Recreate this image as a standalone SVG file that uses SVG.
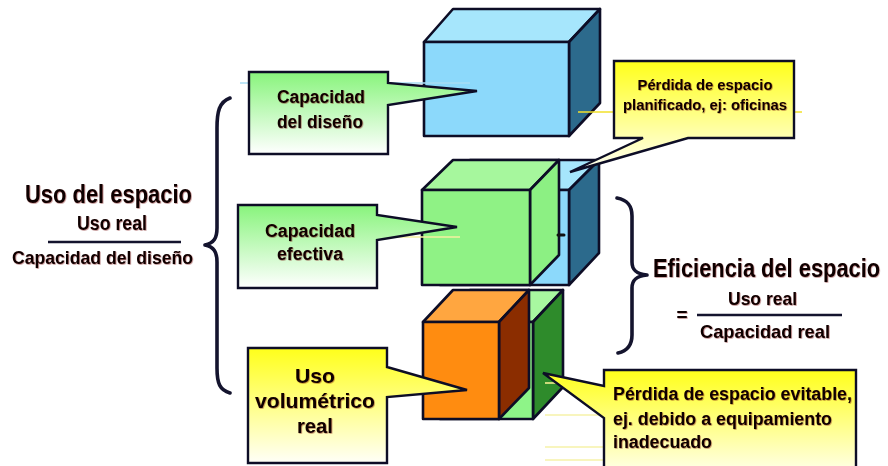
<svg xmlns="http://www.w3.org/2000/svg" width="888" height="466" viewBox="0 0 888 466">
  <defs>
    <linearGradient id="gGreen" x1="0" y1="0" x2="0" y2="1">
      <stop offset="0" stop-color="#88F47C"/>
      <stop offset="1" stop-color="#FFFFFF"/>
    </linearGradient>
    <linearGradient id="gYellow" x1="0" y1="0" x2="0" y2="1">
      <stop offset="0" stop-color="#FFFF1A"/>
      <stop offset="1" stop-color="#FFFFF8"/>
    </linearGradient>
    <filter id="shadow" x="-5%" y="-20%" width="110%" height="140%">
      <feDropShadow dx="0.7" dy="0.7" stdDeviation="0.35" flood-color="#6a0000" flood-opacity="0.5"/>
    </filter>
    <style>
      .face { stroke: #0d0d26; stroke-width: 2.6; stroke-linejoin: round; }
      .callout { stroke: #0d0d26; stroke-width: 2.4; stroke-linejoin: miter; }
      .brace { fill: none; stroke: #14142e; stroke-width: 3.6; stroke-linecap: round; stroke-linejoin: round; }
      .guide { stroke-width: 1.6; fill: none; }
      text { font-family: "Liberation Sans", Arial, sans-serif; font-weight: bold; fill: #0c0202; filter: url(#shadow); }
      .c { text-anchor: middle; }
    </style>
  </defs>

  <!-- upper box: design capacity -->
  <g id="cube-design">
    <polygon class="face" points="424,42 453,9 600,9 569,42" fill="#A6E6FC"/>
    <polygon class="face" points="569,42 600,9 600,103 569,136" fill="#2C6A8C"/>
    <rect class="face" x="424" y="42" width="145" height="94" fill="#8CD9FB"/>
  </g>

  <!-- middle: blue box behind, green effective-capacity cube in front -->
  <g id="cube-effective">
    <polygon class="face" points="440,190 470,160 599,160 569,190" fill="#A6E6FC"/>
    <polygon class="face" points="569,190 599,160 599,253 569,285" fill="#2C6A8C"/>
    <rect class="face" x="440" y="190" width="129" height="95" fill="#8CD9FB"/>
    <polygon class="face" points="422,190 453,160 559,160 530,190" fill="#A6F79D"/>
    <polygon class="face" points="530,190 559,160 559,255 530,285" fill="#8CF083"/>
    <rect class="face" x="422" y="190" width="108" height="95" fill="#8FF285"/>
    <line x1="558" y1="235" x2="564" y2="235" stroke="#111" stroke-width="3" stroke-linecap="round"/>
  </g>

  <!-- lower: green box behind, orange actual-use cube in front -->
  <g id="cube-actual">
    <polygon class="face" points="440,322 470,290 563,290 533,322" fill="#A8F8A0"/>
    <polygon class="face" points="533,322 563,290 563,387 533,419" fill="#2E8B2B"/>
    <rect class="face" x="440" y="322" width="93" height="97" fill="#8EF488"/>
    <polygon class="face" points="423,322 453,290 529,290 499,322" fill="#FFA640"/>
    <polygon class="face" points="499,322 529,290 529,388 499,419" fill="#8B2D00"/>
    <rect class="face" x="423" y="322" width="76" height="97" fill="#FF8C10"/>
  </g>

  <!-- thin leftover guide lines -->
  <g id="connectors">
    <line class="guide" x1="240" y1="83" x2="470" y2="83" stroke="#A8DDF5"/>
    <line class="guide" x1="578" y1="112" x2="802" y2="112" stroke="#F2E02A"/>
    <line class="guide" x1="377" y1="237" x2="460" y2="237" stroke="#F4F0A0"/>
    <line class="guide" x1="545" y1="383" x2="563" y2="383" stroke="#F4EE90"/>
    <line class="guide" x1="545" y1="415" x2="604" y2="415" stroke="#F6F2A8"/>
    <line class="guide" x1="545" y1="447" x2="604" y2="447" stroke="#F6F2A8"/>
    <line class="guide" x1="545" y1="460" x2="604" y2="460" stroke="#F6F2A8"/>
  </g>

  <!-- braces -->
  <g id="brace-left">
    <path class="brace" d="M230,98 C219,102 217,112 217,128 L217,228 C217,238 214,243 205,245 C214,247 217,252 217,262 L217,368 C217,384 220,390 230,393"/>
  </g>
  <g id="brace-right">
    <path class="brace" d="M617,198 C627,200 632,205 632,216 L632,262 C632,270 636,274 647,275 C636,276 632,280 632,288 L632,335 C632,346 627,351 618,353"/>
  </g>

  <!-- callouts -->
  <g id="callout-design">
    <path class="callout" d="M249,72 H388 V83 L477,91 L388,105 V154 H249 Z" fill="url(#gGreen)"/>
    <text class="c" x="321" y="103" font-size="18" textLength="88" lengthAdjust="spacingAndGlyphs">Capacidad</text>
    <text class="c" x="320" y="128" font-size="18" textLength="86" lengthAdjust="spacingAndGlyphs">del diseño</text>
  </g>

  <g id="callout-effective">
    <path class="callout" d="M238,205 H377 V215 L457,227 L377,240 V288 H238 Z" fill="url(#gGreen)"/>
    <text class="c" x="310" y="237" font-size="18" textLength="90" lengthAdjust="spacingAndGlyphs">Capacidad</text>
    <text class="c" x="310" y="260" font-size="18" textLength="66" lengthAdjust="spacingAndGlyphs">efectiva</text>
  </g>

  <g id="callout-actual">
    <path class="callout" d="M248,348 H387 V367 L467,390 L387,397 V463 H248 Z" fill="url(#gYellow)"/>
    <text class="c" x="315" y="383" font-size="20.5" textLength="40" lengthAdjust="spacingAndGlyphs">Uso</text>
    <text class="c" x="315" y="408" font-size="20.5" textLength="120" lengthAdjust="spacingAndGlyphs">volumétrico</text>
    <text class="c" x="315" y="433" font-size="20.5" textLength="36" lengthAdjust="spacingAndGlyphs">real</text>
  </g>

  <g id="callout-planned-loss">
    <path class="callout" d="M614,61 H794 V138 H688 L570,172 L643,138 H614 Z" fill="url(#gYellow)"/>
    <text class="c" x="705" y="90" font-size="15" textLength="135" lengthAdjust="spacingAndGlyphs">Pérdida de espacio</text>
    <text class="c" x="705" y="110" font-size="15" textLength="164" lengthAdjust="spacingAndGlyphs">planificado, ej: oficinas</text>
  </g>

  <g id="callout-avoidable-loss">
    <path class="callout" d="M604,370 H856 V480 H604 V418 L543,373 L604,386 Z" fill="url(#gYellow)"/>
    <text x="613" y="400" font-size="18" textLength="239" lengthAdjust="spacingAndGlyphs">Pérdida de espacio evitable,</text>
    <text x="613" y="425" font-size="18" textLength="219" lengthAdjust="spacingAndGlyphs">ej. debido a equipamiento</text>
    <text x="613" y="448" font-size="18" textLength="99" lengthAdjust="spacingAndGlyphs">inadecuado</text>
  </g>

  <!-- space use ratio -->
  <g id="space-use">
    <text class="c" x="108.5" y="203" font-size="26" textLength="167" lengthAdjust="spacingAndGlyphs">Uso del espacio</text>
    <text class="c" x="112" y="230" font-size="20" textLength="70" lengthAdjust="spacingAndGlyphs">Uso real</text>
    <line x1="48" y1="242" x2="181" y2="242" stroke="#14142e" stroke-width="2.6"/>
    <text class="c" x="102.5" y="264" font-size="19" textLength="181" lengthAdjust="spacingAndGlyphs">Capacidad del diseño</text>
  </g>

  <!-- space efficiency ratio -->
  <g id="space-efficiency">
    <text transform="translate(653,277) scale(0.825,1)" x="0" y="0" font-size="26.5">Eficiencia del espacio</text>
    <text class="c" x="762.5" y="305" font-size="19" textLength="69" lengthAdjust="spacingAndGlyphs">Uso real</text>
    <text class="c" x="682" y="321" font-size="19">=</text>
    <line x1="697" y1="315" x2="842" y2="315" stroke="#14142e" stroke-width="2.6"/>
    <text class="c" x="765" y="338" font-size="19" textLength="130" lengthAdjust="spacingAndGlyphs">Capacidad real</text>
  </g>
</svg>
